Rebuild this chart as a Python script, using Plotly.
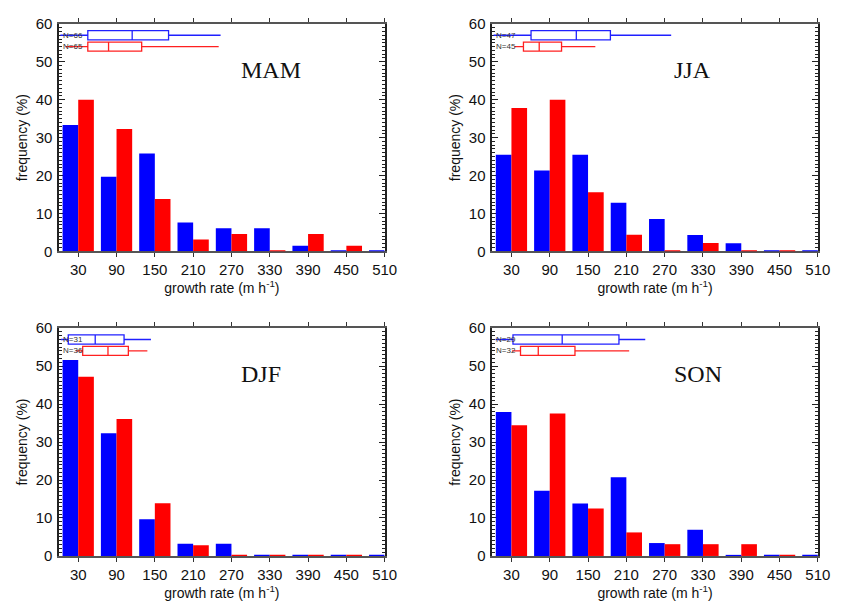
import plotly.graph_objects as go

# ---------------- data ----------------
bins = [30, 90, 150, 210, 270, 330, 390, 450, 510]
tick_labels = ["30", "90", "150", "210", "270", "330", "390", "450", "510"]

mam_blue = [33.3, 19.7, 25.8, 7.6, 6.1, 6.1, 1.5, 0, 0]
mam_red = [40.0, 32.3, 13.8, 3.1, 4.6, 0, 4.6, 1.5, 0]
jja_blue = [25.5, 21.3, 25.5, 12.8, 8.5, 4.3, 2.1, 0, 0]
jja_red = [37.8, 40.0, 15.6, 4.4, 0, 2.2, 0, 0, 0]
djf_blue = [51.6, 32.3, 9.7, 3.2, 3.2, 0, 0, 0, 0]
djf_red = [47.2, 36.1, 13.9, 2.8, 0, 0, 0, 0, 0]
son_blue = [37.9, 17.2, 13.8, 20.7, 3.4, 6.9, 0, 0, 0]
son_red = [34.4, 37.5, 12.5, 6.2, 3.1, 3.1, 3.1, 0, 0]

# box stats: [lower whisker, q1, median, q3, upper whisker]
mam_blue_box = [2, 45, 114.5, 171.5, 253]
mam_red_box = [10, 45, 77.5, 129.4, 250]
jja_blue_box = [2, 60.7, 131.6, 185, 280.2]
jja_red_box = [35, 48.8, 73.5, 108.5, 161.4]
djf_blue_box = [3, 14.4, 56.6, 101.8, 143.9]
djf_red_box = [26, 37, 76.6, 108.5, 138.3]
son_blue_box = [5, 32.4, 109.5, 198.4, 239.6]
son_red_box = [31, 44.2, 72, 129.5, 214.4]

n_blue = [66, 47, 31, 29]
n_red = [65, 45, 36, 32]
seasons = ["MAM", "JJA", "DJF", "SON"]

# ---------------- style ----------------
BLUE = "#0000ff"
RED = "#ff0000"
BAR_W = 24.5
X_MAX = 510
BOX_Y_BLUE = 57
BOX_Y_RED = 54
BOX_H = 2.4

panels = [
    (seasons[0], mam_blue, mam_red, mam_blue_box, mam_red_box, n_blue[0], n_red[0]),
    (seasons[1], jja_blue, jja_red, jja_blue_box, jja_red_box, n_blue[1], n_red[1]),
    (seasons[2], djf_blue, djf_red, djf_blue_box, djf_red_box, n_blue[2], n_red[2]),
    (seasons[3], son_blue, son_red, son_blue_box, son_red_box, n_blue[3], n_red[3]),
]

W, H = 843, 608
xdoms = [[60 / W, 390.7 / W], [500 / W, 830.7 / W]]
ydoms = [[1 - 249.3 / H, 1 - 15.3 / H], [1 - 562.7 / H, 1 - 328.3 / H]]
placement = [(0, 0), (1, 0), (0, 1), (1, 1)]

fig = go.Figure()
annotations = []
layout = {}

def zero_segments(vals, off):
    xs, ys = [], []
    for c, v in zip(bins, vals):
        if v == 0:
            x0, x1 = c + off, c + off + BAR_W
            if x1 <= X_MAX + 1e-6:
                xs += [x0, x1, None]
                ys += [0, 0, None]
    return xs, ys

for i, (name, bvals, rvals, bbox, rbox, nb, nr) in enumerate(panels):
    k = "" if i == 0 else str(i + 1)
    xa, ya = "x" + k, "y" + k
    cx, cy = placement[i]

    fig.add_trace(go.Bar(x=bins, y=bvals, width=BAR_W, offset=-BAR_W,
                         marker=dict(color=BLUE, line=dict(width=0)),
                         xaxis=xa, yaxis=ya, showlegend=False))
    fig.add_trace(go.Bar(x=bins, y=rvals, width=BAR_W, offset=0,
                         marker=dict(color=RED, line=dict(width=0)),
                         xaxis=xa, yaxis=ya, showlegend=False))
    for vals, off, col in [(bvals, -BAR_W, BLUE), (rvals, 0, RED)]:
        zx, zy = zero_segments(vals, off)
        if zx:
            fig.add_trace(go.Scatter(x=zx, y=zy, mode="lines",
                                     line=dict(color=col, width=2.2),
                                     cliponaxis=False, xaxis=xa, yaxis=ya,
                                     showlegend=False, hoverinfo="skip"))
    for st, yy, col in [(bbox, BOX_Y_BLUE, "#2020ff"), (rbox, BOX_Y_RED, "#ff2020")]:
        fig.add_trace(go.Box(orientation="h", y=[yy],
                             lowerfence=[st[0]], q1=[st[1]], median=[st[2]],
                             q3=[st[3]], upperfence=[st[4]],
                             width=BOX_H, whiskerwidth=0, boxpoints=False,
                             line=dict(color=col, width=1.3), fillcolor="rgba(255,255,255,1)",
                             xaxis=xa, yaxis=ya, showlegend=False))

    ax_common = dict(showgrid=False, zeroline=False, showline=True, mirror="ticks",
                     layer="below traces")
    layout["xaxis" + k] = dict(
        ax_common, domain=xdoms[cx], anchor=ya, range=[0, X_MAX],
        tickmode="array", tickvals=bins, ticktext=tick_labels,
        ticks="outside", ticklen=4, tickwidth=1.2, tickcolor="#333",
        linecolor="#555", linewidth=2,
        tickfont=dict(family="Liberation Sans", size=15, color="#111"),
        title=dict(text="growth rate (m h<sup>-1</sup>)", standoff=4,
                   font=dict(family="Liberation Sans", size=14, color="#111")),
    )
    layout["yaxis" + k] = dict(
        ax_common, domain=ydoms[cy], anchor=xa, range=[0, 60],
        tickmode="linear", tick0=0, dtick=10,
        ticks="inside", ticklen=6, tickwidth=1, tickcolor="#222",
        linecolor="#222", linewidth=1.5,
        minor=dict(dtick=1, ticks="inside", ticklen=3, tickwidth=1, tickcolor="#222"),
        tickfont=dict(family="Liberation Sans", size=15, color="#111"),
        ticklabelstandoff=2,
        title=dict(text="frequency (%)", standoff=5,
                   font=dict(family="Liberation Sans", size=14, color="#111")),
    )

    annotations.append(dict(text=name, xref=xa + " domain", yref=ya + " domain",
                            x=0.553, y=0.797, xanchor="left", yanchor="middle",
                            showarrow=False,
                            font=dict(family="Liberation Serif", size=24, color="#111")))
    for n, yy in [(nb, BOX_Y_BLUE), (nr, BOX_Y_RED)]:
        annotations.append(dict(text=f"N={n}", xref=xa + " domain", yref=ya,
                                x=0.006, y=yy, xanchor="left", yanchor="middle",
                                showarrow=False,
                                font=dict(family="Liberation Sans", size=8, color="#333")))

fig.update_layout(
    width=W, height=H, margin=dict(l=0, r=0, t=0, b=0),
    paper_bgcolor="white", plot_bgcolor="white",
    barmode="overlay", boxmode="overlay",
    annotations=annotations, **layout,
)

fig.write_html("out.html")
